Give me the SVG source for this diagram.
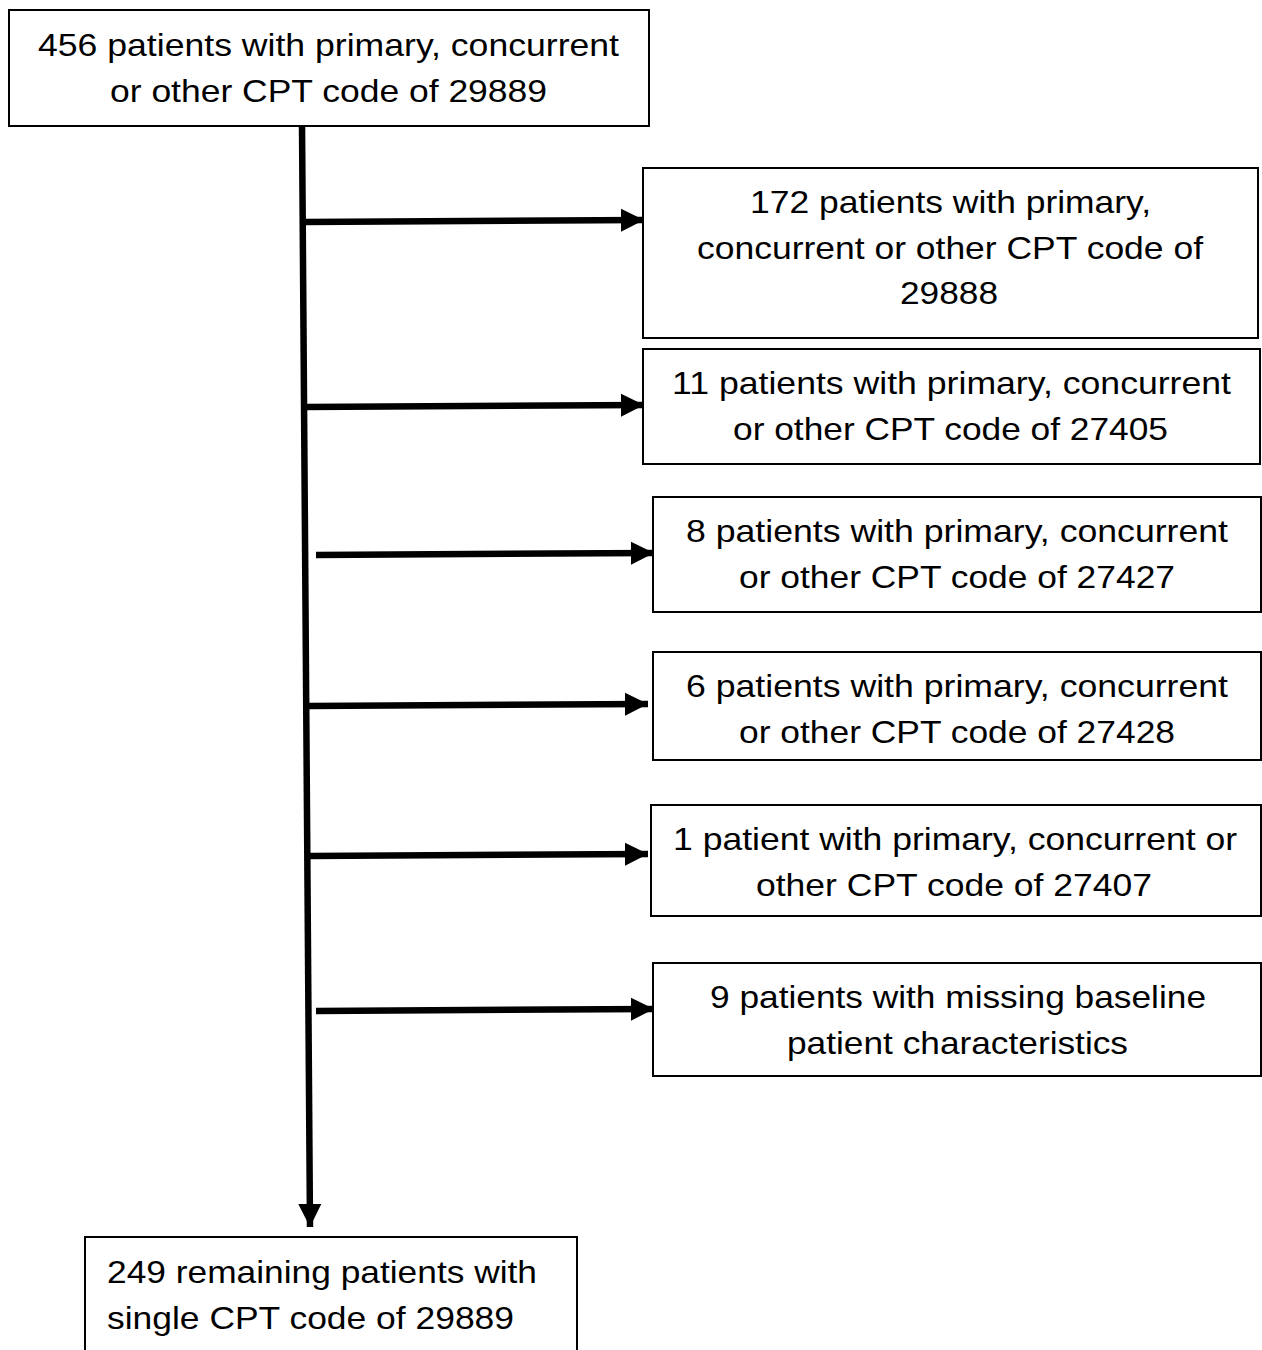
<svg xmlns="http://www.w3.org/2000/svg" width="1262" height="1350" viewBox="0 0 1262 1350">
<defs>
<style>
.box{fill:#fff;stroke:#000;stroke-width:2}
.t{font-family:"Liberation Sans",Arial,sans-serif;font-size:31.5px;fill:#000;text-anchor:middle}
.tl{font-family:"Liberation Sans",Arial,sans-serif;font-size:31.5px;fill:#000}
.ln{stroke:#000;stroke-width:6.5;fill:none}
</style>
<marker id="ah" viewBox="0 0 10 10" refX="10" refY="5" markerWidth="3.6" markerHeight="3.6" markerUnits="strokeWidth" orient="auto">
<path d="M0,0 L10,5 L0,10 z" fill="#000"/>
</marker>
</defs>
<rect width="1262" height="1350" fill="#fff"/>
<g id="connectors">
<path class="ln" d="M302,124 L310,1227" marker-end="url(#ah)"/>
<path class="ln" d="M305,222 L644,220" marker-end="url(#ah)"/>
<path class="ln" d="M305,407 L644,405" marker-end="url(#ah)"/>
<path class="ln" d="M316,555 L654,553" marker-end="url(#ah)"/>
<path class="ln" d="M309,706 L648,704" marker-end="url(#ah)"/>
<path class="ln" d="M310,856 L648,854" marker-end="url(#ah)"/>
<path class="ln" d="M316,1011 L654,1009" marker-end="url(#ah)"/>
</g>
<g id="n0">
<rect class="box" x="9" y="10" width="640" height="116"/>
<text class="t" x="328.5" y="56" textLength="581" lengthAdjust="spacingAndGlyphs">456 patients with primary, concurrent</text>
<text class="t" x="328.5" y="102" textLength="437" lengthAdjust="spacingAndGlyphs">or other CPT code of 29889</text>
</g>
<g id="n1">
<rect class="box" x="643" y="168" width="615" height="170"/>
<text class="t" x="950.5" y="213" textLength="401" lengthAdjust="spacingAndGlyphs">172 patients with primary,</text>
<text class="t" x="950" y="259" textLength="506" lengthAdjust="spacingAndGlyphs">concurrent or other CPT code of</text>
<text class="t" x="949" y="304" textLength="98" lengthAdjust="spacingAndGlyphs">29888</text>
</g>
<g id="n2">
<rect class="box" x="643" y="349" width="617" height="115"/>
<text class="t" x="951.5" y="394" textLength="559" lengthAdjust="spacingAndGlyphs">11 patients with primary, concurrent</text>
<text class="t" x="950.5" y="440" textLength="435" lengthAdjust="spacingAndGlyphs">or other CPT code of 27405</text>
</g>
<g id="n3">
<rect class="box" x="653" y="497" width="608" height="115"/>
<text class="t" x="957" y="542" textLength="542" lengthAdjust="spacingAndGlyphs">8 patients with primary, concurrent</text>
<text class="t" x="957" y="588" textLength="436" lengthAdjust="spacingAndGlyphs">or other CPT code of 27427</text>
</g>
<g id="n4">
<rect class="box" x="653" y="652" width="608" height="108"/>
<text class="t" x="957" y="697" textLength="542" lengthAdjust="spacingAndGlyphs">6 patients with primary, concurrent</text>
<text class="t" x="957" y="743" textLength="436" lengthAdjust="spacingAndGlyphs">or other CPT code of 27428</text>
</g>
<g id="n5">
<rect class="box" x="651" y="805" width="610" height="111"/>
<text class="t" x="955" y="850" textLength="564" lengthAdjust="spacingAndGlyphs">1 patient with primary, concurrent or</text>
<text class="t" x="954" y="896" textLength="396" lengthAdjust="spacingAndGlyphs">other CPT code of 27407</text>
</g>
<g id="n6">
<rect class="box" x="653" y="963" width="608" height="113"/>
<text class="t" x="958" y="1008" textLength="496" lengthAdjust="spacingAndGlyphs">9 patients with missing baseline</text>
<text class="t" x="957.5" y="1054" textLength="341" lengthAdjust="spacingAndGlyphs">patient characteristics</text>
</g>
<g id="n7">
<rect class="box" x="85" y="1237" width="492" height="120"/>
<text class="tl" x="107" y="1283" textLength="430" lengthAdjust="spacingAndGlyphs">249 remaining patients with</text>
<text class="tl" x="107" y="1329" textLength="407" lengthAdjust="spacingAndGlyphs">single CPT code of 29889</text>
</g>
</svg>
